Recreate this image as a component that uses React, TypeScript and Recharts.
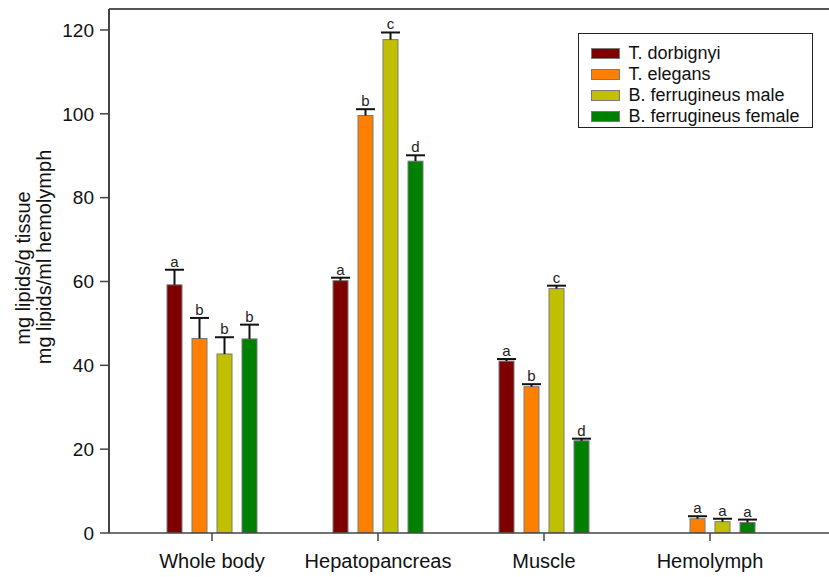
import React from 'react';
import {
  BarChart,
  Bar,
  XAxis,
  YAxis,
  ReferenceLine,
} from 'recharts';

const categories = ['Whole body', 'Hepatopancreas', 'Muscle', 'Hemolymph'];

const dorbignyi = [59.2, 60.2, 41.0, null];
const dorbignyiErr = [3.6, 0.7, 0.5, null];
const dorbignyiSig = ['a', 'a', 'a', ''];

const elegans = [46.4, 99.6, 34.9, 3.4];
const elegansErr = [4.9, 1.5, 0.6, 0.6];
const elegansSig = ['b', 'b', 'b', 'a'];

const maleVals = [42.7, 117.7, 58.3, 2.7];
const maleErr = [4.0, 1.7, 0.7, 0.7];
const maleSig = ['b', 'c', 'c', 'a'];

const femaleVals = [46.3, 88.7, 22.0, 2.5];
const femaleErr = [3.4, 1.4, 0.5, 0.7];
const femaleSig = ['b', 'd', 'd', 'a'];

const yTicks = [0, 20, 40, 60, 80, 100, 120];

const series = [
  { key: 'dor', name: 'T. dorbignyi', color: '#7f0000' },
  { key: 'ele', name: 'T. elegans', color: '#ff8000' },
  { key: 'male', name: 'B. ferrugineus male', color: '#c0c000' },
  { key: 'fem', name: 'B. ferrugineus female', color: '#008000' },
];

const data = categories.map((name, i) => ({
  name,
  dor: dorbignyi[i],
  dorErr: dorbignyiErr[i],
  dorSig: dorbignyiSig[i],
  ele: elegans[i],
  eleErr: elegansErr[i],
  eleSig: elegansSig[i],
  male: maleVals[i],
  maleErr: maleErr[i],
  maleSig: maleSig[i],
  fem: femaleVals[i],
  femErr: femaleErr[i],
  femSig: femaleSig[i],
}));

const FONT = '"Liberation Sans", Arial, Helvetica, sans-serif';

// bar + one-sided error bar + significance letter
const makeShape = (key: string) => (props: any) => {
  const { x, y, width, height, fill, payload } = props;
  const v = payload[key];
  if (v == null || !height) return <g />;
  const err = payload[key + 'Err'] ?? 0;
  const sig = payload[key + 'Sig'] ?? '';
  const pxPerUnit = height / v;
  const top = y - err * pxPerUnit;
  const cx = x + width / 2;
  return (
    <g>
      <rect x={x} y={y} width={width} height={height} fill={fill} stroke='#7a7a7a' strokeWidth={1} />
      <line x1={cx} x2={cx} y1={y} y2={top} stroke='#111' strokeWidth={2} />
      <line x1={cx - 9.5} x2={cx + 9.5} y1={top} y2={top} stroke='#111' strokeWidth={2} />
      <text x={cx} y={top - 3} textAnchor='middle' fontSize={15} fontFamily={FONT} fill='#222'>
        {sig}
      </text>
    </g>
  );
};

const yTitle = () => (
  <g fontFamily={FONT} fontSize={20} fill='#111'>
    <text x={30} y={268} transform='rotate(-90 30 268)' textAnchor='middle'>
      mg lipids/g tissue
    </text>
    <text x={51} y={257} transform='rotate(-90 51 257)' textAnchor='middle'>
      mg lipids/ml hemolymph
    </text>
  </g>
);

const LegendBox = () => (
  <div
    style={{
      position: 'absolute',
      left: 578,
      top: 33,
      width: 235,
      height: 95,
      border: '1.5px solid #222',
      background: '#fff',
      padding: '9px 0 3px 11.5px',
      fontFamily: FONT,
      fontSize: 18,
      color: '#111',
      boxSizing: 'border-box',
    }}
  >
    {series.map((s) => (
      <div key={s.key} style={{ display: 'flex', alignItems: 'center', height: 21, lineHeight: '21px' }}>
        <span
          style={{
            display: 'inline-block',
            width: 29,
            height: 11,
            background: s.color,
            border: '1px solid #7a7a7a',
            boxSizing: 'border-box',
            marginRight: 9,
          }}
        />
        <span>{s.name}</span>
      </div>
    ))}
  </div>
);

export default function App() {
  return (
    <div
      style={{
        position: 'absolute',
        left: 0,
        top: 0,
        width: 829,
        height: 577,
        overflow: 'hidden',
        background: '#fff',
      }}
    >
      <BarChart
        width={850}
        height={577}
        data={data}
        margin={{ top: 9, right: 0, bottom: 4, left: 0 }}
        barCategoryGap={38}
        barGap={10}
        barSize={15}
      >
        <XAxis
          dataKey='name'
          padding={{ left: 20, right: 57 }}
          height={40}
          tickSize={8}
          tickMargin={13}
          axisLine={{ stroke: '#444', strokeWidth: 1.5 }}
          tickLine={{ stroke: '#444', strokeWidth: 1.5 }}
          tick={{ fontSize: 20, fontFamily: FONT, fill: '#111' }}
          interval={0}
        />
        <YAxis
          width={109}
          domain={[0, 125]}
          ticks={yTicks}
          allowDataOverflow
          tickSize={9}
          tickMargin={6}
          axisLine={{ stroke: '#444', strokeWidth: 2 }}
          tickLine={{ stroke: '#444', strokeWidth: 1.5 }}
          tick={{ fontSize: 19, fontFamily: FONT, fill: '#111' }}
          label={{ content: yTitle }}
        />
        <ReferenceLine y={125} stroke='#555' strokeWidth={2} />
        {series.map((s) => (
          <Bar
            key={s.key}
            dataKey={s.key}
            name={s.name}
            fill={s.color}
            shape={makeShape(s.key)}
            isAnimationActive={false}
          />
        ))}
      </BarChart>
      <LegendBox />
    </div>
  );
}
